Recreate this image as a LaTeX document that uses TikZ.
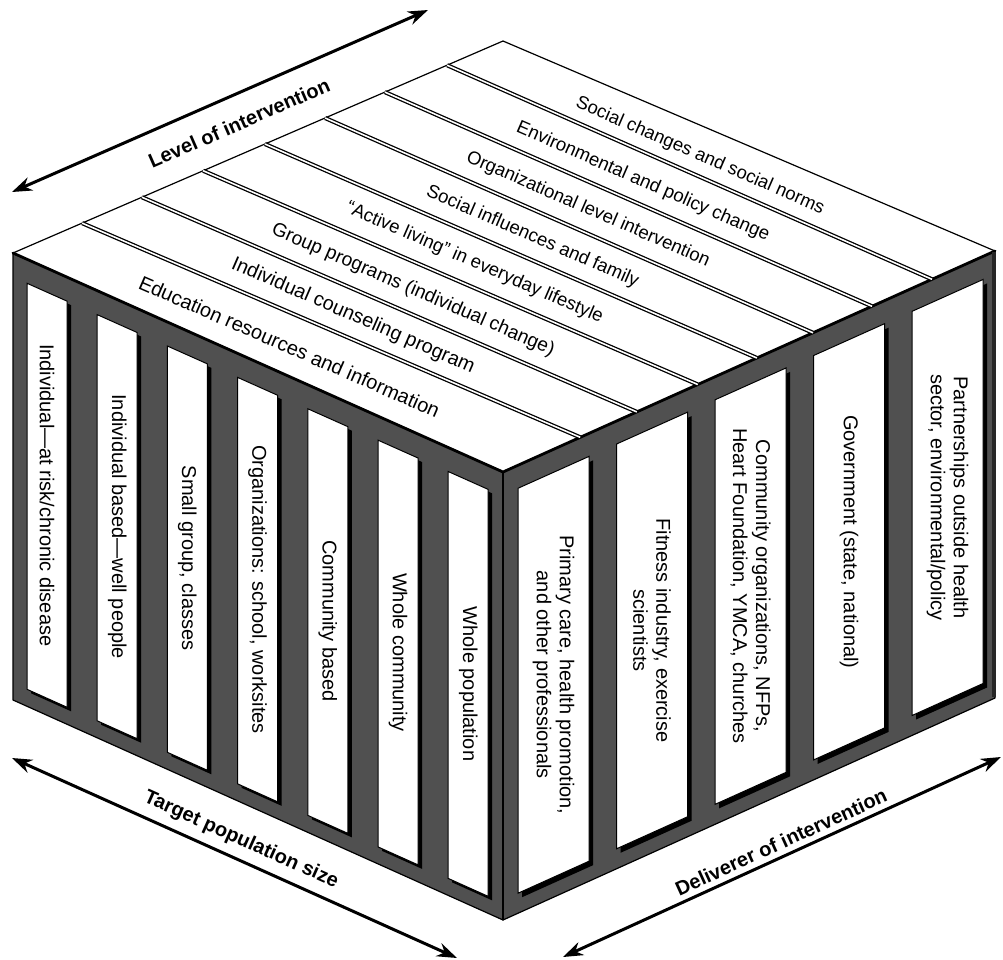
\documentclass[tikz,border=0pt]{standalone}
\usepackage{fontspec}
\setmainfont{Liberation Sans}
\usetikzlibrary{arrows.meta}
\definecolor{framegray}{RGB}{80,80,80}
\tikzset{
  facebox/.style={fill=framegray, draw=black, line width=0.6pt, line join=round},
  topbox/.style={fill=white, draw=black, line width=0.6pt, line join=round},
  panel/.style={fill=white, draw=black, line width=0.5pt},
  panelshadow/.style={fill=black},
  sidetext/.style={font=\fontsize{10}{11.5}\selectfont, rotate=-90, align=center, inner sep=0pt},
  striptext/.style={rotate=-23.5, inner sep=0pt},
  axislabel/.style={font=\bfseries\fontsize{10}{12}\selectfont, inner sep=0pt},
  axisarrow/.style={line width=1.5pt, {Stealth[length=10pt,width=7pt]}-{Stealth[length=10pt,width=7pt]}},
  sepline/.style={line width=0.65pt, double=white, double distance=0.8pt},
  edgeline/.style={line width=1.4pt, line cap=round},
}
\newcommand{\fs}[1]{\fontsize{#1}{12}\selectfont}
\begin{document}
\begin{tikzpicture}[x=0.5pt,y=-0.5pt]
\useasboundingbox (0,0) rectangle (1003,960);
% cube vertices
\coordinate (L) at (13,253);
\coordinate (B) at (503,41);
\coordinate (R) at (995,251);
\coordinate (F) at (503,472);
\coordinate (LB) at (13,700);
\coordinate (FB) at (503,920);
\coordinate (RB) at (995,698);
% faces
\draw[facebox] (L) -- (F) -- (FB) -- (LB) -- cycle;
\draw[facebox] (F) -- (R) -- (RB) -- (FB) -- cycle;
\draw[topbox] (L) -- (B) -- (R) -- (F) -- cycle;
% left face panels
\foreach \k in {0,...,6} {
  \pgfmathsetmacro\xl{27+70.2*\k}
  \pgfmathsetmacro\xr{\xl+40}
  \pgfmathsetmacro\ytl{277+(\xl-13)*0.44694}
  \pgfmathsetmacro\ytr{277+(\xr-13)*0.44694}
  \pgfmathsetmacro\ybl{683+(\xl-13)*0.449}
  \pgfmathsetmacro\ybr{683+(\xr-13)*0.449}
  \fill[panelshadow, shift={(4,4)}] (\xl,\ytl) -- (\xr,\ytr) -- (\xr,\ybr) -- (\xl,\ybl) -- cycle;
  \draw[panel] (\xl,\ytl) -- (\xr,\ytr) -- (\xr,\ybr) -- (\xl,\ybl) -- cycle;
}
% right face panels
\foreach \k in {0,...,4} {
  \pgfmathsetmacro\xl{518+98.5*\k}
  \pgfmathsetmacro\xr{\xl+71}
  \pgfmathsetmacro\ytl{495-(\xl-503)*0.449}
  \pgfmathsetmacro\ytr{495-(\xr-503)*0.449}
  \pgfmathsetmacro\ybl{900-(\xl-503)*0.451}
  \pgfmathsetmacro\ybr{900-(\xr-503)*0.451}
  \fill[panelshadow, shift={(4,4)}] (\xl,\ytl) -- (\xr,\ytr) -- (\xr,\ybr) -- (\xl,\ybl) -- cycle;
  \draw[panel] (\xl,\ytl) -- (\xr,\ytr) -- (\xr,\ybr) -- (\xl,\ybl) -- cycle;
}
% edges
\draw[edgeline] (L) -- (F) -- (R);
\draw[line width=0.6pt] (F) -- (FB);
\draw[line width=2pt, black!85] (993.5,252) -- (993.5,697);
% top strip separators
\coordinate (s1b) at (82.1,223.1);  \coordinate (s1f) at (580.2,437.3);
\coordinate (s2b) at (141.9,197.2); \coordinate (s2f) at (636.8,411.9);
\coordinate (s3b) at (203.1,170.7); \coordinate (s3f) at (697.8,384.5);
\coordinate (s4b) at (264.9,144.0); \coordinate (s4f) at (756.9,358.0);
\coordinate (s5b) at (325.1,118.0); \coordinate (s5f) at (813.0,332.8);
\coordinate (s6b) at (384.9,92.1);  \coordinate (s6f) at (872.0,306.3);
\coordinate (s7b) at (447.1,65.2);  \coordinate (s7f) at (932.0,279.3);
\foreach \i in {1,...,7} { \draw[sepline] (s\i b) -- (s\i f); }
% top strip texts
\node[striptext, font=\fs{10}] (t1) at (289.5,346.5) {Education resources and information};
\node[striptext, font=\fs{9.9}] (t2) at (353,316) {Individual counseling program};
\node[striptext, font=\fs{9.6}] (t3) at (413,290) {Group programs (individual change)};
\node[striptext, font=\fs{9.3}] (t4) at (474.5,263) {“Active living” in everyday lifestyle};
\node[striptext, font=\fs{9.3}] (t5) at (532.5,237) {Social influences and family};
\node[striptext, font=\fs{9.25}] (t6) at (588,209.5) {Organizational level intervention};
\node[striptext, font=\fs{9.3}] (t7) at (643,182) {Environmental and policy change};
\node[striptext, font=\fs{9.2}] (t8) at (700,156) {Social changes and social norms};
% left face texts
\node[sidetext] (p1) at (47,495.2) {Individual---at risk/chronic disease};
\node[sidetext] (p2) at (117.2,526.7) {Individual based---well people};
\node[sidetext] (p3) at (187.4,558.1) {Small group, classes};
\node[sidetext] (p4) at (257.6,589.6) {Organizations: school, worksites};
\node[sidetext] (p5) at (327.8,621.0) {Community based};
\node[sidetext] (p6) at (398,652.5) {Whole community};
\node[sidetext] (p7) at (468.2,683.9) {Whole population};
% right face texts
\node[sidetext] (q1) at (553.5,674.8) {Primary care, health promotion,\\and other professionals};
\node[sidetext] (q2) at (652,630.5) {Fitness industry, exercise\\scientists};
\node[sidetext] (q3) at (750.5,586.1) {Community organizations, NFPs,\\Heart Foundation, YMCA, churches};
\node[sidetext] (q4) at (849,541.8) {Government (state, national)};
\node[sidetext] (q5) at (947.5,497.5) {Partnerships outside health\\sector, environmental/policy};
% axis arrows
\coordinate (lv1) at (12,192);  \coordinate (lv2) at (428,10);
\coordinate (tp1) at (12,758);  \coordinate (tp2) at (457,958);
\coordinate (dv1) at (563,957); \coordinate (dv2) at (1001,757);
\draw[axisarrow] (lv1) -- (lv2);
\draw[axisarrow] (tp1) -- (tp2);
\draw[axisarrow] (dv1) -- (dv2);
\node[axislabel, rotate=23.6] (lvl) at (239,123) {Level of intervention};
\node[axislabel, rotate=-24.2] (tpl) at (241,840) {Target population size};
\node[axislabel, rotate=24.5] (dvl) at (781,842) {Deliverer of intervention};
\end{tikzpicture}
\end{document}
